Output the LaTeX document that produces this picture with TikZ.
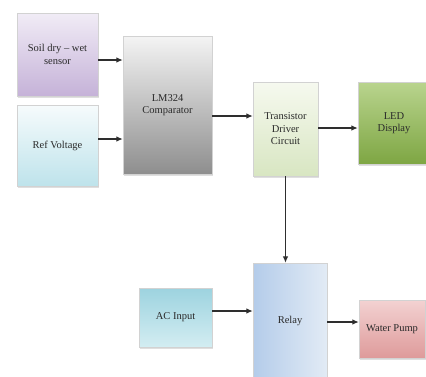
\documentclass[tikz,border=0pt]{standalone}
\usepackage{fontspec}
\setmainfont{Liberation Serif}
\usetikzlibrary{shadows,arrows.meta}
\definecolor{soiltop}{HTML}{F1ECF6}
\definecolor{soilbot}{HTML}{C5B2D8}
\definecolor{reftop}{HTML}{F6FBFC}
\definecolor{refbot}{HTML}{BEE3EB}
\definecolor{comptop}{HTML}{F4F4F4}
\definecolor{compbot}{HTML}{8E8E8E}
\definecolor{drvtop}{HTML}{F6F9EF}
\definecolor{drvbot}{HTML}{D8E6C2}
\definecolor{ledtop}{HTML}{B9D48E}
\definecolor{ledbot}{HTML}{7EA643}
\definecolor{reltop}{HTML}{B4CCEA}
\definecolor{relbot}{HTML}{E2EBF5}
\definecolor{actop}{HTML}{9DD3DF}
\definecolor{acbot}{HTML}{D3EDF2}
\definecolor{pumptop}{HTML}{F3D2D2}
\definecolor{pumpbot}{HTML}{DE9A9A}
\definecolor{txt}{HTML}{2A2A2A}
\definecolor{wire}{HTML}{2E2E2E}
\begin{document}
\begin{tikzpicture}
  [
    x=1pt, y=-1pt,
    block/.style={draw=gray!35, thin, align=center, inner sep=1pt,
      font=\fontsize{10.5}{12.5}\selectfont, text=txt,
      drop shadow={opacity=0.25, shadow xshift=0.6pt, shadow yshift=-1.6pt}},
    wire/.style={-{Latex[length=6.5pt,width=5.5pt]}, line width=1.1pt, draw=wire}
  ]
  \useasboundingbox (0,0) rectangle (426,376);
  % inputs
  \node [block, minimum width=81pt, minimum height=83pt,
    top color=soiltop, bottom color=soilbot] (soil) at (57.5,54.5)
    {Soil dry -- wet\\sensor};
  \node [block, minimum width=81pt, minimum height=81pt,
    top color=reftop, bottom color=refbot] (ref) at (57.5,145.5)
    {Ref Voltage};
  % comparator and driver
  \node [block, minimum width=89pt, minimum height=138pt,
    top color=comptop, bottom color=compbot] (comp) at (167.5,105)
    {LM324\\Comparator};
  \node [block, minimum width=65pt, minimum height=94pt,
    top color=drvtop, bottom color=drvbot] (driver) at (285.5,129)
    {Transistor\\Driver\\Circuit};
  \node [block, minimum width=72pt, minimum height=82pt,
    top color=ledtop, bottom color=ledbot] (led) at (394,123)
    {LED\\Display};
  % relay stage
  \node [block, minimum width=74pt, minimum height=115pt,
    shading angle=135, left color=reltop, right color=relbot] (relay) at (290,320.5)
    {Relay};
  \node [block, minimum width=73pt, minimum height=59pt,
    top color=actop, bottom color=acbot] (acin) at (175.5,317.5)
    {AC Input};
  \node [block, minimum width=66pt, minimum height=58pt,
    top color=pumptop, bottom color=pumpbot] (pump) at (392,329)
    {Water Pump};
  % connections
  \draw [wire] ([yshift=-5.5pt]soil.east) -- ([yshift=-5.5pt]soil.east -| comp.west);
  \draw [wire] ([yshift=6.5pt]ref.east) -- ([yshift=6.5pt]ref.east -| comp.west);
  \draw [wire] ([yshift=-11pt]comp.east) -- ([yshift=-11pt]comp.east -| driver.west);
  \draw [wire] ([yshift=1pt]driver.east) -- ([yshift=1pt]driver.east -| led.west);
  \draw [wire] (driver.south) -- (driver.south |- relay.north);
  \draw [wire] ([yshift=6.5pt]acin.east) -- ([yshift=6.5pt]acin.east -| relay.west);
  \draw [wire] ([yshift=7pt]pump.west -| relay.east) -- ([yshift=7pt]pump.west);
\end{tikzpicture}
\end{document}
